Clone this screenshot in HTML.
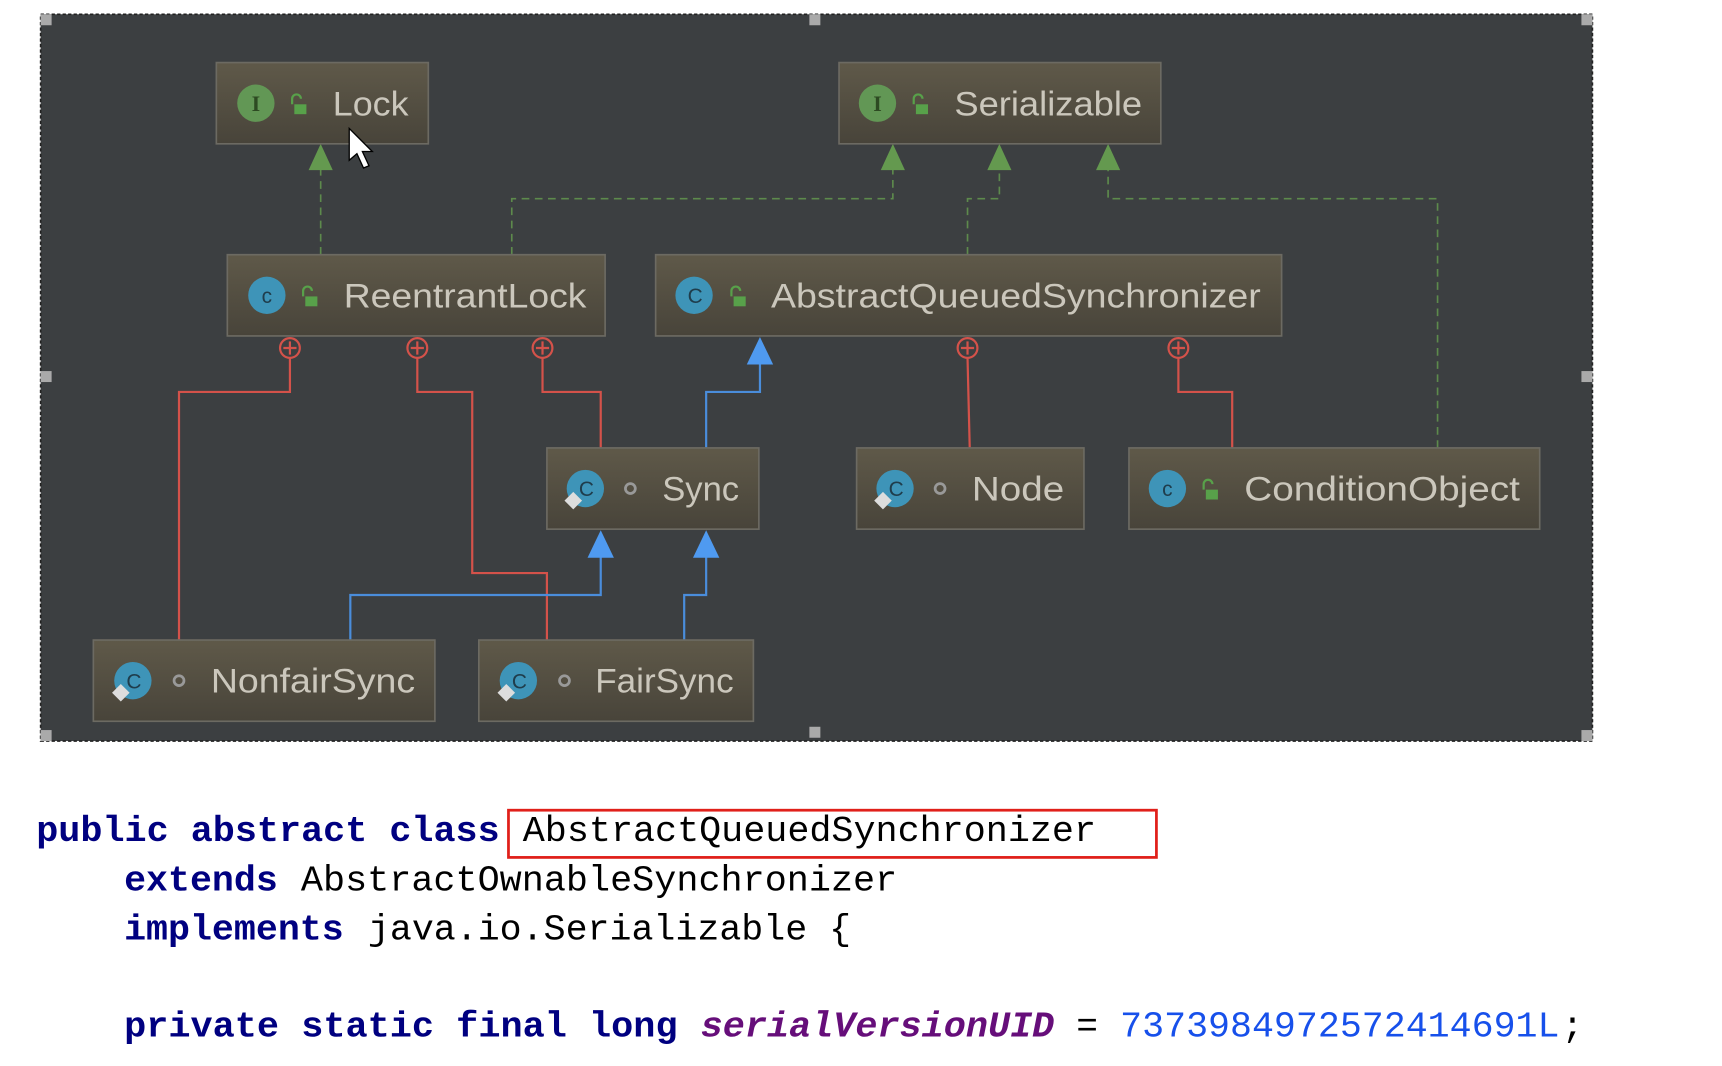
<!DOCTYPE html>
<html><head><meta charset="utf-8"><style>
html,body{margin:0;padding:0;background:#fff;width:1722px;height:1066px;overflow:hidden}
svg{display:block}
.t{font-family:"Liberation Sans",sans-serif;font-size:31px;fill:#cbc7bc}
.c{font-family:"Liberation Mono",monospace;font-size:33px}
.k{font-weight:bold;fill:#000080}
</style></head><body>
<svg width="1722" height="1066" viewBox="0 0 1568 971" preserveAspectRatio="none" xmlns="http://www.w3.org/2000/svg">
<defs>
<linearGradient id="g" x1="0" y1="0" x2="0" y2="1"><stop offset="0" stop-color="#5f5949"/><stop offset="1" stop-color="#48443a"/></linearGradient>
</defs>
<rect x="37" y="13" width="1413" height="662" fill="#3c3f41" stroke="#222" stroke-width="1.5" stroke-dasharray="3,2"/>
<g fill="#aaa">
<rect x="37" y="13" width="10" height="10"/><rect x="737" y="13" width="10" height="10"/><rect x="1440" y="13" width="10" height="10"/>
<rect x="37" y="338" width="10" height="10"/><rect x="1440" y="338" width="10" height="10"/>
<rect x="37" y="665" width="10" height="10"/><rect x="737" y="662" width="10" height="10"/><rect x="1440" y="665" width="10" height="10"/>
</g>
<g fill="none" stroke="#5d8a4c" stroke-width="1.5" stroke-dasharray="7,5">
<path d="M292 232V150"/><path d="M466 232V181H813V150"/><path d="M881 232V181H910V150"/><path d="M1309 408V181H1009V150"/>
</g>
<g fill="#64994f">
<polygon points="292,131 281,155 303,155"/><polygon points="813,131 802,155 824,155"/><polygon points="910,131 899,155 921,155"/><polygon points="1009,131 998,155 1020,155"/>
</g>
<g fill="none" stroke="#d4524a" stroke-width="2">
<path d="M264 326V357H163V583"/><path d="M380 326V357H430V522H498V583"/><path d="M494 326V357H547V408"/><path d="M881 326L883 408"/><path d="M1073 326V357H1122V408"/>
</g>
<g fill="none" stroke="#d4524a" stroke-width="2">
<circle cx="264" cy="317" r="9"/><circle cx="380" cy="317" r="9"/><circle cx="494" cy="317" r="9"/><circle cx="881" cy="317" r="9"/><circle cx="1073" cy="317" r="9"/>
<path d="M264 311v12M258 317h12M380 311v12M374 317h12M494 311v12M488 317h12M881 311v12M875 317h12M1073 311v12M1067 317h12"/>
</g>
<g fill="none" stroke="#4a8ddb" stroke-width="2">
<path d="M643 408V357H692V330"/><path d="M319 583V542H547V505"/><path d="M623 583V542H643V505"/>
</g>
<g fill="#4f9af0">
<polygon points="692,307 680,332 704,332"/><polygon points="547,483 535,508 559,508"/><polygon points="643,483 631,508 655,508"/>
</g>
<g fill="url(#g)" stroke="#6c6a62" stroke-width="1.5">
<rect x="197" y="57" width="193" height="74"/><rect x="764" y="57" width="293" height="74"/>
<rect x="207" y="232" width="344" height="74"/><rect x="597" y="232" width="570" height="74"/>
<rect x="498" y="408" width="193" height="74"/><rect x="780" y="408" width="207" height="74"/><rect x="1028" y="408" width="374" height="74"/>
<rect x="85" y="583" width="311" height="74"/><rect x="436" y="583" width="250" height="74"/>
</g>
<g fill="#629755"><circle cx="233" cy="94" r="17"/><circle cx="799" cy="94" r="17"/></g>
<g font-family="Liberation Serif,serif" font-weight="bold" font-size="20" fill="#2d4a22" text-anchor="middle"><text x="233" y="101">I</text><text x="799" y="101">I</text></g>
<g fill="#3e94b8"><circle cx="243" cy="269" r="17"/><circle cx="1063" cy="445" r="17"/><circle cx="632" cy="269" r="17"/><circle cx="533" cy="445" r="17"/><circle cx="815" cy="445" r="17"/><circle cx="121" cy="620" r="17"/><circle cx="472" cy="620" r="17"/></g>
<g font-family="Liberation Sans,sans-serif" font-size="19" fill="#1f3d4c" text-anchor="middle"><text x="243" y="276">c</text><text x="1063" y="452">c</text><text x="633" y="276">C</text><text x="534" y="452">C</text><text x="816" y="452">C</text><text x="122" y="627">C</text><text x="473" y="627">C</text></g>
<g fill="#ddd"><polygon points="522,448 530,456 522,464 514,456"/><polygon points="804,448 812,456 804,464 796,456"/><polygon points="110,623 118,631 110,639 102,631"/><polygon points="461,623 469,631 461,639 453,631"/></g>
<g fill="#58a14a"><rect x="268" y="95" width="11" height="9"/><rect x="834" y="95" width="11" height="9"/><rect x="278" y="270" width="11" height="9"/><rect x="668" y="270" width="11" height="9"/><rect x="1098" y="446" width="11" height="9"/></g>
<g fill="none" stroke="#58a14a" stroke-width="2"><path d="M266 95v-5a4 4 0 0 1 8 0M832 95v-5a4 4 0 0 1 8 0M276 270v-5a4 4 0 0 1 8 0M666 270v-5a4 4 0 0 1 8 0M1096 446v-5a4 4 0 0 1 8 0"/></g>
<g fill="none" stroke="#999" stroke-width="2.5"><circle cx="574" cy="445" r="4.5"/><circle cx="856" cy="445" r="4.5"/><circle cx="163" cy="620" r="4.5"/><circle cx="514" cy="620" r="4.5"/></g>
<text class="t" x="303" y="105" textLength="69" lengthAdjust="spacingAndGlyphs">Lock</text>
<text class="t" x="869" y="105" textLength="171" lengthAdjust="spacingAndGlyphs">Serializable</text>
<text class="t" x="313" y="280" textLength="221" lengthAdjust="spacingAndGlyphs">ReentrantLock</text>
<text class="t" x="702" y="280" textLength="446" lengthAdjust="spacingAndGlyphs">AbstractQueuedSynchronizer</text>
<text class="t" x="603" y="456" textLength="70" lengthAdjust="spacingAndGlyphs">Sync</text>
<text class="t" x="885" y="456" textLength="84" lengthAdjust="spacingAndGlyphs">Node</text>
<text class="t" x="1133" y="456" textLength="251" lengthAdjust="spacingAndGlyphs">ConditionObject</text>
<text class="t" x="192" y="631" textLength="186" lengthAdjust="spacingAndGlyphs">NonfairSync</text>
<text class="t" x="542" y="631" textLength="126" lengthAdjust="spacingAndGlyphs">FairSync</text>
<polygon points="318,117 318,146 325,140 331,153 336,151 330,138 339,138" fill="#fff" stroke="#000" stroke-width="1.2"/>
<text class="c k" x="33" y="766" textLength="422" lengthAdjust="spacingAndGlyphs">public abstract class</text>
<text class="c" x="476" y="766" textLength="522" lengthAdjust="spacingAndGlyphs" fill="#000">AbstractQueuedSynchronizer</text>
<rect x="463" y="738" width="590" height="43" fill="none" stroke="#e0201a" stroke-width="2.5"/>
<text class="c k" x="113" y="811" textLength="140" lengthAdjust="spacingAndGlyphs">extends</text>
<text class="c" x="274" y="811" textLength="543" lengthAdjust="spacingAndGlyphs" fill="#000">AbstractOwnableSynchronizer</text>
<text class="c k" x="113" y="856" textLength="200" lengthAdjust="spacingAndGlyphs">implements</text>
<text class="c" x="335" y="856" textLength="440" lengthAdjust="spacingAndGlyphs" fill="#000">java.io.Serializable {</text>
<text class="c k" x="113" y="944" textLength="504" lengthAdjust="spacingAndGlyphs">private static final long</text>
<text class="c" x="638" y="944" textLength="322" lengthAdjust="spacingAndGlyphs" font-style="italic" font-weight="bold" fill="#660e7a">serialVersionUID</text>
<text class="c" x="980" y="944" fill="#000">=</text>
<text class="c" x="1020" y="944" textLength="400" lengthAdjust="spacingAndGlyphs" fill="#1750eb">7373984972572414691L</text>
<text class="c" x="1422" y="944" fill="#000">;</text>
</svg>
</body></html>
